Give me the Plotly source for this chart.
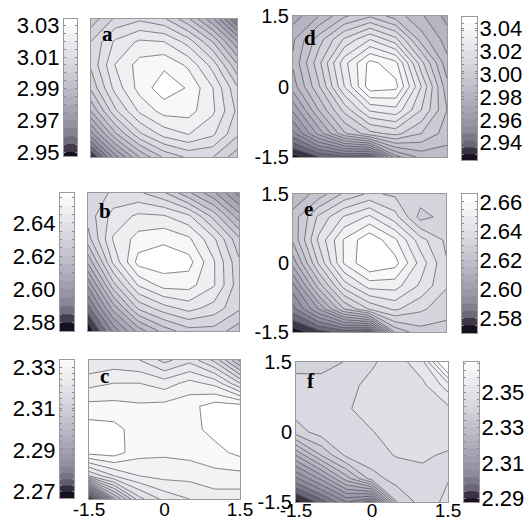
import plotly.graph_objects as go

# grid coordinates (rows listed top -> bottom, i.e. y = 1.5 ... -1.5)
X = [-1.5, -1.0, -0.5, 0.0, 0.5, 1.0, 1.5]
Y = [1.5, 1.0, 0.5, 0.0, -0.5, -1.0, -1.5]
AXIS_TICKS = [-1.5, 0, 1.5]
AXIS_TICKTEXT = ["-1.5", "0", "1.5"]

Z_A = [
    [2.997, 3.006, 3.009, 3.006, 2.996, 2.981, 2.959],
    [3.0052, 3.016, 3.021, 3.0202, 3.013, 3.0002, 2.981],
    [3.006, 3.0202, 3.027, 3.029, 3.024, 3.013, 2.996],
    [3.001, 3.017, 3.027, 3.033, 3.0295, 3.0202, 3.006],
    [2.9902, 3.009, 3.021, 3.027, 3.027, 3.021, 3.009],
    [2.973, 2.994, 3.009, 3.017, 3.0202, 3.016, 3.006],
    [2.9485, 2.973, 2.9902, 3.001, 3.006, 3.0052, 2.997],
]
Z_B = [
    [2.631, 2.636, 2.636, 2.631, 2.621, 2.611, 2.598],
    [2.632, 2.642, 2.646, 2.6455, 2.641, 2.628, 2.612],
    [2.628, 2.6455, 2.652, 2.654, 2.651, 2.641, 2.626],
    [2.616, 2.641, 2.657, 2.658, 2.657, 2.6455, 2.631],
    [2.601, 2.628, 2.6455, 2.652, 2.652, 2.6455, 2.632],
    [2.588, 2.612, 2.631, 2.638, 2.642, 2.638, 2.631],
    [2.576, 2.596, 2.612, 2.622, 2.628, 2.628, 2.622],
]
Z_C = [
    [2.321, 2.322, 2.321, 2.317, 2.320, 2.314, 2.302],
    [2.326, 2.327, 2.327, 2.3255, 2.328, 2.326, 2.318],
    [2.331, 2.331, 2.3305, 2.331, 2.332, 2.3345, 2.3345],
    [2.3345, 2.334, 2.3315, 2.3315, 2.332, 2.334, 2.334],
    [2.334, 2.3345, 2.331, 2.3305, 2.331, 2.332, 2.3338],
    [2.318, 2.324, 2.327, 2.328, 2.328, 2.329, 2.329],
    [2.268, 2.302, 2.317, 2.322, 2.324, 2.3255, 2.3255],
]
Z_D = [
    [2.975, 2.984, 2.995, 3.001, 2.993, 2.985, 2.976],
    [2.983, 2.999, 3.015, 3.026, 3.016, 2.993, 2.981],
    [2.985, 3.006, 3.030, 3.046, 3.040, 3.010, 2.986],
    [2.981, 3.001, 3.026, 3.048, 3.046, 3.020, 2.992],
    [2.967, 2.990, 3.010, 3.027, 3.030, 3.014, 2.996],
    [2.952, 2.974, 2.995, 3.006, 3.010, 3.002, 2.993],
    [2.927, 2.936, 2.940, 2.938, 2.976, 2.986, 2.987],
]
Z_E = [
    [2.616, 2.622, 2.631, 2.636, 2.634, 2.633, 2.631],
    [2.622, 2.636, 2.6455, 2.651, 2.642, 2.628, 2.632],
    [2.621, 2.641, 2.6555, 2.664, 2.656, 2.642, 2.634],
    [2.612, 2.6355, 2.6555, 2.665, 2.662, 2.648, 2.6355],
    [2.598, 2.622, 2.642, 2.652, 2.652, 2.644, 2.6355],
    [2.588, 2.605, 2.625, 2.6355, 2.641, 2.636, 2.632],
    [2.572, 2.578, 2.582, 2.5795, 2.621, 2.628, 2.628],
]
Z_F = [
    [2.340, 2.339, 2.3425, 2.3455, 2.348, 2.353, 2.375],
    [2.344, 2.345, 2.345, 2.347, 2.348, 2.349, 2.356],
    [2.344, 2.345, 2.3455, 2.348, 2.349, 2.349, 2.349],
    [2.340, 2.344, 2.345, 2.3458, 2.348, 2.349, 2.348],
    [2.322, 2.334, 2.343, 2.345, 2.3462, 2.3465, 2.3455],
    [2.305, 2.315, 2.328, 2.340, 2.344, 2.345, 2.3458],
    [2.288, 2.296, 2.306, 2.300, 2.338, 2.344, 2.347],
]

# colorbar ranges and tick labels
CB_A = [2.9475, 3.034]; TICK_A = [2.95, 2.97, 2.99, 3.01, 3.03]
CB_B = [2.575, 2.658];  TICK_B = [2.58, 2.60, 2.62, 2.64]
CB_C = [2.267, 2.3334]; TICK_C = [2.27, 2.29, 2.31, 2.33]
CB_D = [2.925, 3.0496]; TICK_D = [2.94, 2.96, 2.98, 3.00, 3.02, 3.04]
CB_E = [2.5697, 2.6655]; TICK_E = [2.58, 2.60, 2.62, 2.64, 2.66]
CB_F = [2.288, 2.367];  TICK_F = [2.29, 2.31, 2.33, 2.35]

# contour levels (start, end, step)
LEV_A = [2.950, 3.030, 0.005]
LEV_B = [2.580, 2.655, 0.005]
LEV_C = [2.270, 2.333, 0.003]
LEV_D = [2.930, 3.044, 0.006]
LEV_E = [2.575, 2.660, 0.005]
LEV_F = [2.290, 2.366, 0.004]

CS = [
    [0.0, "#161020"], [0.04, "#2e2838"], [0.10, "#6a6678"], [0.20, "#8e8b9d"],
    [0.35, "#a7a5b5"], [0.50, "#bdbcc8"], [0.70, "#d9dae1"], [0.85, "#ececf0"],
    [1.0, "#ffffff"],
]

W, H = 529, 522
FONT = "Liberation Sans, Arial, sans-serif"

# layout geometry in window pixels: plot box (x0,x1,y0,y1), colorbar box, label baseline offset
panels = [
    dict(lab="a", z=Z_A, cb=CB_A, ticks=TICK_A, lev=LEV_A, box=(91, 237, 19, 157), cbox=(64, 77, 19, 156), side="left", xl=False, yl=False, base=22),
    dict(lab="b", z=Z_B, cb=CB_B, ticks=TICK_B, lev=LEV_B, box=(88, 239, 193, 331), cbox=(60, 74, 193, 331), side="left", xl=False, yl=False, base=25),
    dict(lab="c", z=Z_C, cb=CB_C, ticks=TICK_C, lev=LEV_C, box=(89, 240, 360, 499), cbox=(60, 74, 360, 498), side="left", xl=True, yl=False, base=23),
    dict(lab="d", z=Z_D, cb=CB_D, ticks=TICK_D, lev=LEV_D, box=(293, 447, 16, 157), cbox=(462, 477, 17, 160), side="right", xl=False, yl=True, base=29),
    dict(lab="e", z=Z_E, cb=CB_E, ticks=TICK_E, lev=LEV_E, box=(293, 446, 194, 332), cbox=(462, 477, 194, 333), side="right", xl=False, yl=True, base=22),
    dict(lab="f", z=Z_F, cb=CB_F, ticks=TICK_F, lev=LEV_F, box=(296, 448, 362, 502), cbox=(464, 479, 362, 502), side="right", xl=True, yl=True, base=26),
]


def dom_x(a, b):
    return [a / W, b / W]


def dom_y(top, bot):
    return [(H - bot) / H, (H - top) / H]


def key(k):
    return "" if k == 1 else str(k)


fig = go.Figure()
layout = {}
annotations = []
LINE = "#9a9a9a"

for i, p in enumerate(panels):
    km = 2 * i + 1
    kc = 2 * i + 2
    s, e, d = p["lev"]
    contours = dict(start=s, end=e, size=d, coloring="fill")
    zrows = p["z"][::-1]
    fig.add_trace(go.Contour(
        x=X, y=Y[::-1], z=zrows, xaxis="x" + key(km), yaxis="y" + key(km),
        colorscale=CS, showscale=False, contours=contours,
        line=dict(color="#4d4d55", width=0.7, smoothing=0), hoverinfo="skip",
    ))
    lo, hi = p["cb"]
    fig.add_trace(go.Contour(
        x=[0, 1], y=[lo, hi], z=[[lo, lo], [hi, hi]],
        xaxis="x" + key(kc), yaxis="y" + key(kc),
        colorscale=CS, showscale=False,
        contours=dict(start=s, end=e, size=d, coloring="fill", showlines=False),
        line=dict(width=0), hoverinfo="skip",
    ))
    x0, x1, y0, y1 = p["box"]
    layout["xaxis" + key(km)] = dict(
        domain=dom_x(x0, x1), range=[-1.5, 1.5], anchor="y" + key(km),
        showline=True, mirror=True, linecolor=LINE, linewidth=1,
        showgrid=False, zeroline=False, ticks="", automargin=False,
        tickvals=AXIS_TICKS, ticktext=AXIS_TICKTEXT, showticklabels=p["xl"],
        ticklabelstandoff=(-9 if p["lab"] == "f" else -7), ticklabeloverflow="allow",
        tickfont=dict(family=FONT, size=19, color="black"),
    )
    layout["yaxis" + key(km)] = dict(
        domain=dom_y(y0, y1), range=[-1.5, 1.5], anchor="x" + key(km),
        showline=True, mirror=True, linecolor=LINE, linewidth=1,
        showgrid=False, zeroline=False, ticks="", automargin=False,
        tickvals=AXIS_TICKS, ticktext=AXIS_TICKTEXT, showticklabels=p["yl"],
        ticklabelstandoff=-1, ticklabeloverflow="allow",
        tickfont=dict(family=FONT, size=20, color="black"),
    )
    cx0, cx1, cy0, cy1 = p["cbox"]
    layout["xaxis" + key(kc)] = dict(
        domain=dom_x(cx0, cx1), range=[0, 1], anchor="y" + key(kc),
        showline=True, mirror=True, linecolor=LINE, linewidth=1, automargin=False,
        showgrid=False, zeroline=False, ticks="", showticklabels=False,
    )
    layout["yaxis" + key(kc)] = dict(
        domain=dom_y(cy0, cy1), range=[lo, hi], anchor="x" + key(kc),
        side=p["side"], showline=True, mirror="ticks", linecolor=LINE, linewidth=1,
        showgrid=False, zeroline=False, automargin=False,
        tickvals=p["ticks"], ticktext=["%.2f" % t for t in p["ticks"]],
        ticks="inside", ticklen=2, tickcolor="#8a8a8a",
        minor=dict(ticks="inside", ticklen=2, dtick=d, tick0=s, tickcolor="#8a8a8a"),
        ticklabelstandoff=(-3 if p["side"] == "right" else -1), ticklabeloverflow="allow",
        tickfont=dict(family=FONT, size=22, color="black"),
    )
    ph = y1 - y0
    pw = x1 - x0
    annotations.append(dict(
        text="<b>%s</b>" % p["lab"], xref="x%s domain" % key(km), yref="y%s domain" % key(km),
        x=9 / pw, y=1 - (p["base"] - 7) / ph, xanchor="left", yanchor="middle",
        showarrow=False, font=dict(family="Liberation Serif, Times New Roman, serif", size=21, color="black"),
    ))

fig.update_layout(
    width=W, height=H, margin=dict(l=0, r=0, t=0, b=0, autoexpand=False),
    paper_bgcolor="white", plot_bgcolor="white", showlegend=False,
    annotations=annotations, **layout,
)
fig.write_html(
    "out.html",
    config={"displayModeBar": False},
    post_script="document.body.style.margin='0';document.body.style.overflow='hidden';",
)
